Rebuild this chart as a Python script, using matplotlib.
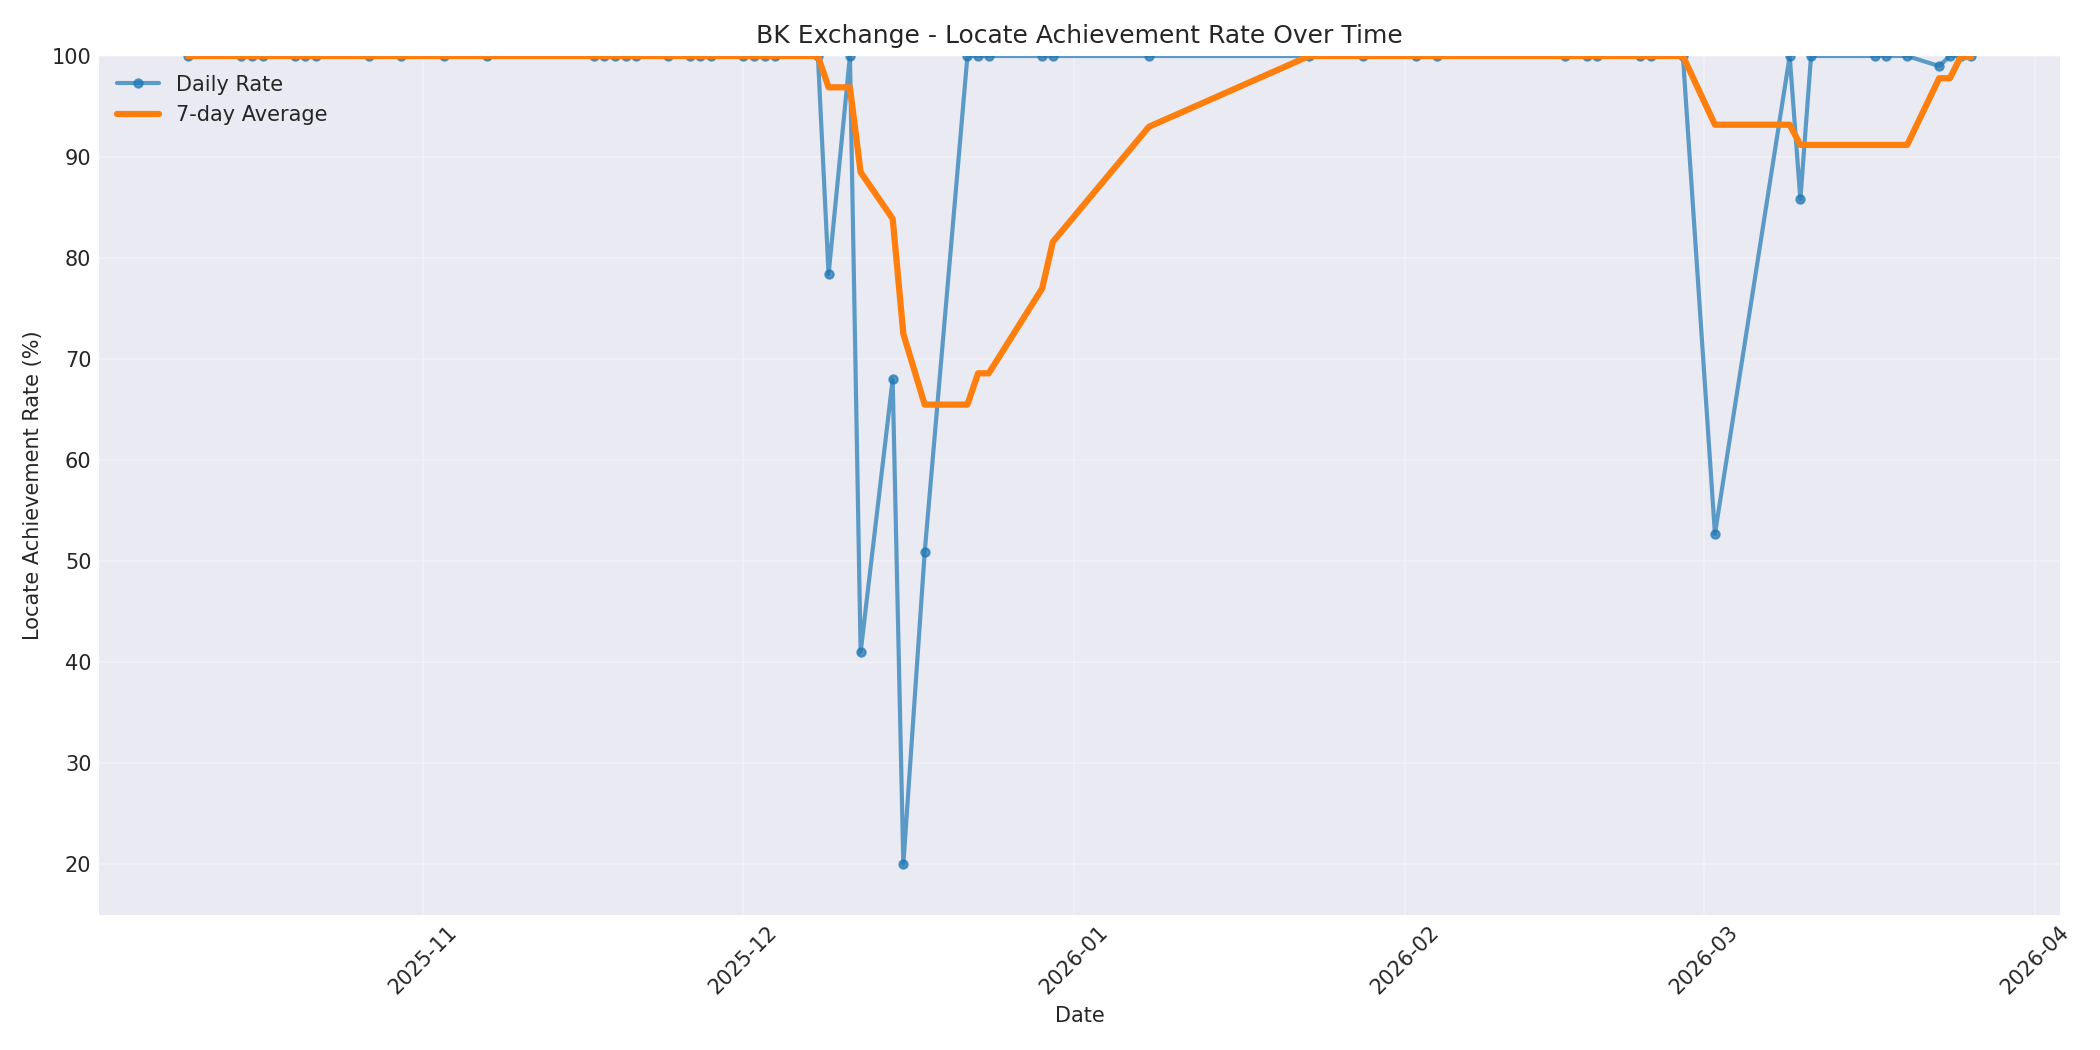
import pandas as pd
import matplotlib
matplotlib.use('Agg')
import matplotlib.pyplot as plt
import matplotlib.dates as mdates

plt.style.use('seaborn-v0_8-darkgrid')
plt.rcParams['font.family'] = ['DejaVu Sans']

# daily locate achievement (%), one row per trading day with data
DATES = [
    '2025-10-10', '2025-10-15', '2025-10-16', '2025-10-17', '2025-10-20',
    '2025-10-21', '2025-10-22', '2025-10-27', '2025-10-30',
    '2025-11-03', '2025-11-07', '2025-11-17', '2025-11-18', '2025-11-19',
    '2025-11-20', '2025-11-21', '2025-11-24', '2025-11-26', '2025-11-27',
    '2025-11-28',
    '2025-12-01', '2025-12-02', '2025-12-03', '2025-12-04', '2025-12-08',
    '2025-12-09', '2025-12-11', '2025-12-12', '2025-12-15', '2025-12-16',
    '2025-12-18', '2025-12-22', '2025-12-23', '2025-12-24', '2025-12-29',
    '2025-12-30',
    '2026-01-08', '2026-01-23', '2026-01-28',
    '2026-02-02', '2026-02-04', '2026-02-16', '2026-02-18', '2026-02-19',
    '2026-02-23', '2026-02-24', '2026-02-27',
    '2026-03-02', '2026-03-09', '2026-03-10', '2026-03-11', '2026-03-17',
    '2026-03-18', '2026-03-20', '2026-03-23', '2026-03-24', '2026-03-25',
    '2026-03-26',
]

DAILY_RATE = [
    100, 100, 100, 100, 100, 100, 100, 100, 100,
    100, 100, 100, 100, 100, 100, 100, 100, 100, 100, 100,
    100, 100, 100, 100, 100,
    78.4, 100, 41.0, 68.0, 20.0, 50.9, 100, 100, 100, 100, 100,
    100, 100, 100,
    100, 100, 100, 100, 100, 100, 100, 100,
    52.7, 100, 85.8, 100, 100, 100, 100, 99.0, 100, 100, 100,
]

AVG_7D = [
    100, 100, 100, 100, 100, 100, 100, 100, 100,
    100, 100, 100, 100, 100, 100, 100, 100, 100, 100, 100,
    100, 100, 100, 100, 100,
    96.9, 96.9, 88.5, 83.9, 72.5, 65.5, 65.5, 68.6, 68.6, 77.0, 81.6,
    93.0, 100, 100,
    100, 100, 100, 100, 100, 100, 100, 100,
    93.2, 93.2, 91.2, 91.2, 91.2, 91.2, 91.2, 97.8, 97.8, 99.9, 99.9,
]

dates = pd.to_datetime(DATES)

fig, ax = plt.subplots(figsize=(14, 7))

ax.plot(dates, DAILY_RATE, marker='o', markersize=4, linewidth=2,
        alpha=0.7, color='#1f77b4', label='Daily Rate')
ax.plot(dates, AVG_7D, linewidth=3, color='#ff7f0e', label='7-day Average')

ax.set_title('BK Exchange - Locate Achievement Rate Over Time')
ax.set_xlabel('Date')
ax.set_ylabel('Locate Achievement Rate (%)')
ax.set_ylim(15, 100)
ax.xaxis.set_major_locator(mdates.MonthLocator())
ax.xaxis.set_major_formatter(mdates.DateFormatter('%Y-%m'))
plt.setp(ax.get_xticklabels(), rotation=45)
ax.grid(True, alpha=0.3)
ax.legend(loc='upper left')

plt.tight_layout()
plt.savefig('out.png', dpi=150)
plt.close()
